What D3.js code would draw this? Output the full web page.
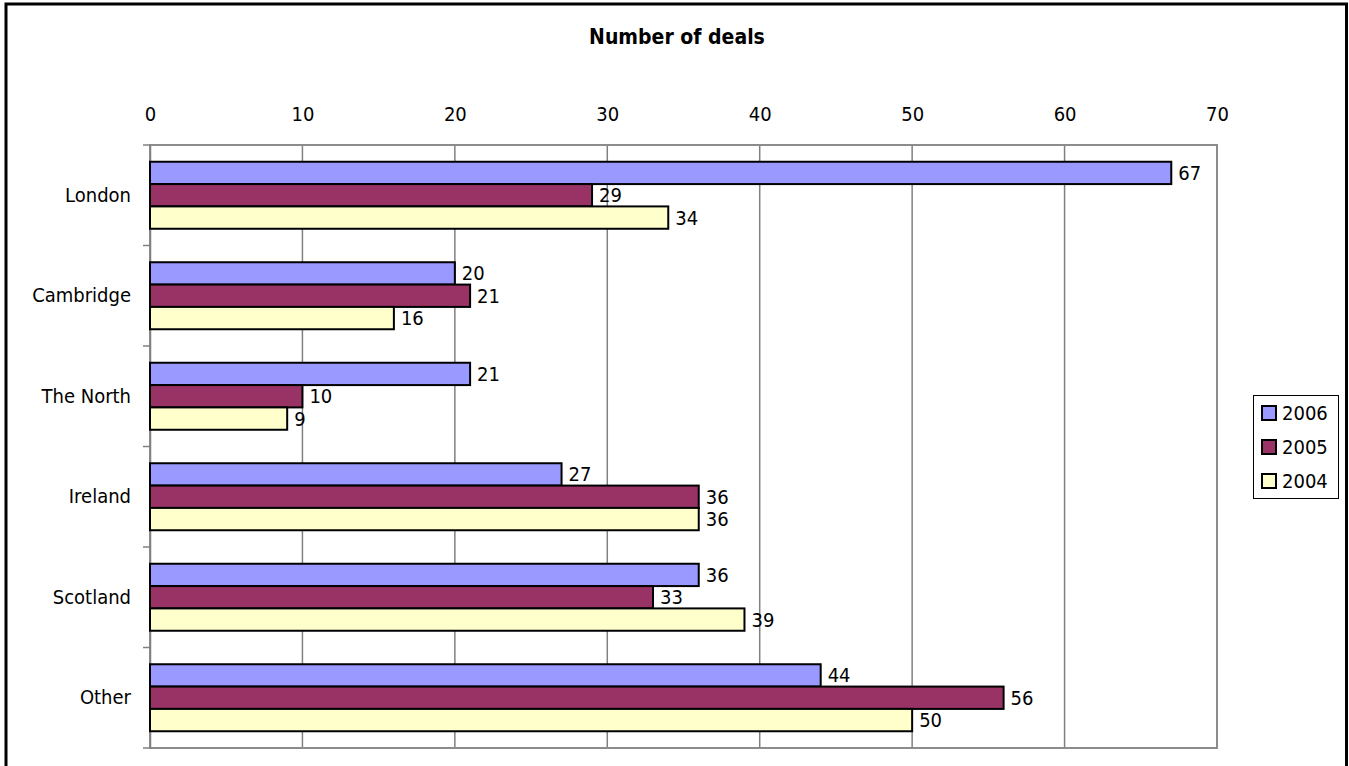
<!DOCTYPE html>
<html><head><meta charset="utf-8">
<script src="https://cdn.jsdelivr.net/npm/d3@7"></script>
<style>
html,body{margin:0;padding:0;background:#fff;}
svg{display:block;}
text{font-family:Tahoma,"DejaVu Sans Condensed","Liberation Sans",sans-serif;fill:#000;}
</style></head>
<body>
<svg id="c" width="1349" height="766"></svg>
<script>
const categories = ["London","Cambridge","The North","Ireland","Scotland","Other"];
const seriesNames = ["2006","2005","2004"];
const values2006 = [67,20,21,27,36,44];
const values2005 = [29,21,10,36,33,56];
const values2004 = [34,16,9,36,39,50];
const xTicks = [0,10,20,30,40,50,60,70];
const colors = ["#9999FF","#993366","#FFFFCC"];
const title = "Number of deals";

const series = [values2006, values2005, values2004];
const svg = d3.select("#c");
const FS = "20px";

// outer border
svg.append("rect").attr("x",6).attr("y",4).attr("width",1340.5).attr("height",800)
  .attr("fill","#fff").attr("stroke","#000").attr("stroke-width",3);

const L=150, R=1217, T=145, B=748;
const x = d3.scaleLinear().domain([0,70]).range([L,R]);
const y = d3.scaleBand().domain(categories).range([T,B]).padding(0);
const bw = y.bandwidth();
const ys = d3.scaleBand().domain(seriesNames).range([bw/6, bw*5/6]).padding(0);

svg.append("text").attr("x",677).attr("y",37).attr("text-anchor","middle")
  .attr("dominant-baseline","central").style("font-weight","bold").style("font-size","21px").text(title);

// gridlines
svg.append("g").selectAll("line").data(xTicks.slice(1,-1)).join("line")
  .attr("x1",d=>x(d)).attr("x2",d=>x(d)).attr("y1",T).attr("y2",B)
  .attr("stroke","#808080").attr("stroke-width",1.5);

// plot border
svg.append("rect").attr("x",L).attr("y",T).attr("width",R-L).attr("height",B-T)
  .attr("fill","none").attr("stroke","#8c8c8c").attr("stroke-width",2);

// top axis labels
const xAxis = d3.axisTop(x).tickValues(xTicks).tickSize(0).tickPadding(0).tickFormat(d3.format("d"));
const gx = svg.append("g").attr("transform",`translate(0,${T-24})`).call(xAxis);
gx.select(".domain").remove();
gx.selectAll("text").style("font-size",FS).style("font-family",null);

// left axis
const yAxis = d3.axisLeft(y).tickSize(0).tickPadding(19);
const gy = svg.append("g").attr("transform",`translate(${L},0)`).call(yAxis);
gy.select(".domain").attr("stroke","#808080").attr("stroke-width",1.5);
gy.selectAll("text").style("font-size",FS).style("font-family",null);
svg.append("g").selectAll("line").data(d3.range(categories.length+1)).join("line")
  .attr("x1",L-7).attr("x2",L).attr("y1",i=>T+i*bw).attr("y2",i=>T+i*bw)
  .attr("stroke","#808080").attr("stroke-width",1.5);

// bars
series.forEach((vals,si)=>{
  const g = svg.append("g");
  g.selectAll("rect").data(vals).join("rect")
    .attr("x",x(0)).attr("y",(d,i)=>y(categories[i])+ys(seriesNames[si]))
    .attr("width",d=>x(d)-x(0)).attr("height",ys.bandwidth())
    .attr("fill",colors[si]).attr("stroke","#000").attr("stroke-width",2);
  g.selectAll("text").data(vals).join("text")
    .attr("x",d=>x(d)+7).attr("y",(d,i)=>y(categories[i])+ys(seriesNames[si])+ys.bandwidth()/2)
    .attr("dominant-baseline","central").style("font-size",FS).text(d=>d);
});

// legend
const lg = svg.append("g");
lg.append("rect").attr("x",1253.5).attr("y",395.5).attr("width",85).attr("height",103)
  .attr("fill","#fff").attr("stroke","#000").attr("stroke-width",1);
seriesNames.forEach((s,i)=>{
  const cy = 413 + i*34;
  lg.append("rect").attr("x",1262).attr("y",cy-7).attr("width",14).attr("height",14)
    .attr("fill",colors[i]).attr("stroke","#000").attr("stroke-width",2);
  lg.append("text").attr("x",1282).attr("y",cy).attr("dominant-baseline","central")
    .style("font-size",FS).text(s);
});
</script>
</body></html>
